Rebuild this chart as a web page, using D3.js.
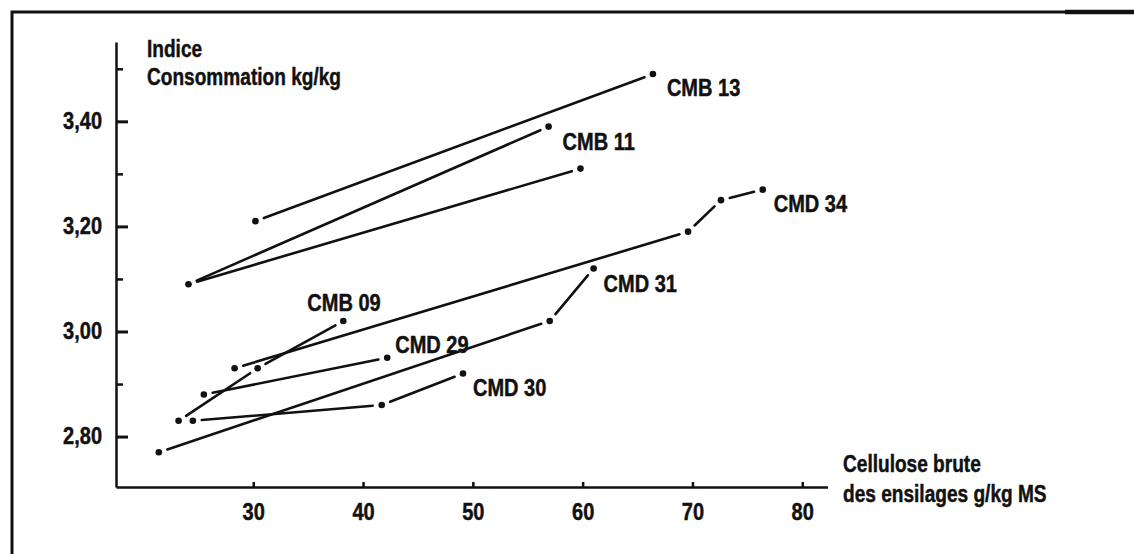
<!DOCTYPE html>
<html><head><meta charset="utf-8">
<script src="https://cdn.jsdelivr.net/npm/d3@7"></script>
<style>
html,body{margin:0;padding:0;background:#fff;}
svg{display:block;}
text{font-family:"Liberation Sans",Arial,sans-serif;font-weight:bold;fill:#111;stroke:#111;stroke-width:0.45px;}
</style></head><body>
<svg id="chart" width="1134" height="554"></svg>
<script>
// ---- data ----
const seriesNames = ["CMB 13", "CMB 11", "CMD 34", "CMD 31", "CMB 09", "CMD 29", "CMD 30"];
const cmb13 = [[30.2, 3.21], [66.4, 3.49]];
const cmb11 = [[56.9, 3.39], [24.1, 3.09], [59.8, 3.31]];
const cmd34 = [[28.3, 2.93], [69.6, 3.19], [72.6, 3.25], [76.4, 3.27]];
const cmd31 = [[21.4, 2.77], [57.0, 3.02], [61.0, 3.12]];
const cmb09 = [[23.2, 2.83], [30.4, 2.93], [38.2, 3.02]];
const cmd29 = [[25.5, 2.88], [42.2, 2.95]];
const cmd30 = [[24.5, 2.83], [41.7, 2.86], [49.1, 2.92]];
const seriesValues = [cmb13, cmb11, cmd34, cmd31, cmb09, cmd29, cmd30];

const xTicks = [30, 40, 50, 60, 70, 80];
const yMajorTicks = [2.8, 3.0, 3.2, 3.4];
const yMinorTicks = [2.9, 3.1, 3.3, 3.5];
const yTickLabels = ["2,80", "3,00", "3,20", "3,40"];
const yTitle = ["Indice", "Consommation kg/kg"];
const xTitle = ["Cellulose brute", "des ensilages g/kg MS"];

// ---- layout (not data) ----
const labelAnchor = [1, 0, 3, 2, 2, 1, 2];
const labelOffset = [[14, 14], [14, 15], [11, 14], [10, 16], [-36, -18], [8, -13], [10, 14]];
const FS = 23;
const GAP = 9;
const SX_TITLE = 0.83;   // horizontal condensing of the bold sans face
const SX_LABEL = 0.87;

function condense(sel, sx) {
  sel.each(function () {
    const t = d3.select(this);
    const xv = +(t.attr("x") || 0);
    const tr = t.attr("transform") || "";
    t.attr("x", xv / sx).attr("transform", (tr + " scale(" + sx + ",1)").trim());
  });
}

const svg = d3.select("#chart");

// frame (scanned border, heavier at the right end of the top rule)
svg.append("path").attr("d", "M12,554V12H1134").attr("fill", "none")
  .attr("stroke", "#111").attr("stroke-width", 3);
svg.append("path").attr("d", "M1065,12H1134").attr("fill", "none")
  .attr("stroke", "#111").attr("stroke-width", 4.5);

const x = d3.scaleLinear().domain([17.5, 82.3]).range([116, 827.5]);
const y = d3.scaleLinear().domain([2.704, 3.551]).range([487, 42]);

// y axis
const yAx = svg.append("g").attr("transform", "translate(116,0)")
  .call(d3.axisLeft(y).tickValues(yMajorTicks).tickSizeInner(-12).tickSizeOuter(0)
    .tickPadding(14).tickFormat((d, i) => yTickLabels[i]));
yAx.attr("font-family", null).attr("font-size", null);
yAx.select(".domain").attr("stroke", "#111").attr("stroke-width", 2.5);
yAx.selectAll(".tick line").attr("stroke", "#111").attr("stroke-width", 3);
yAx.selectAll(".tick text").attr("font-size", FS).attr("fill", "#111").call(condense, SX_LABEL);

const yMin = svg.append("g").attr("transform", "translate(116,0)")
  .call(d3.axisLeft(y).tickValues(yMinorTicks).tickSizeInner(-7).tickSizeOuter(0).tickFormat(""));
yMin.select(".domain").remove();
yMin.selectAll(".tick line").attr("stroke", "#111").attr("stroke-width", 2.5);

// x axis
const xAx = svg.append("g").attr("transform", "translate(0,487)")
  .call(d3.axisBottom(x).tickValues(xTicks).tickSizeInner(-5).tickSizeOuter(0).tickPadding(17));
xAx.attr("font-family", null).attr("font-size", null);
xAx.select(".domain").attr("stroke", "#111").attr("stroke-width", 2.5);
xAx.selectAll(".tick line").attr("stroke", "#111").attr("stroke-width", 2.5);
xAx.selectAll(".tick text").attr("font-size", FS).attr("fill", "#111").call(condense, SX_LABEL);

// axis titles
const titles = svg.append("g");
titles.append("text").attr("x", 147).attr("y", 57).attr("font-size", FS).text(yTitle[0]);
titles.append("text").attr("x", 147).attr("y", 85).attr("font-size", FS).text(yTitle[1]);
titles.append("text").attr("x", 843).attr("y", 472).attr("font-size", FS).text(xTitle[0]);
titles.append("text").attr("x", 843).attr("y", 502).attr("font-size", FS).text(xTitle[1]);
titles.selectAll("text").call(condense, SX_TITLE);

// series
const plot = svg.append("g");
seriesValues.forEach((pts, si) => {
  const P = pts.map(d => [x(d[0]), y(d[1])]);
  for (let i = 0; i < P.length - 1; i++) {
    const [x1, y1] = P[i], [x2, y2] = P[i + 1];
    const L = Math.hypot(x2 - x1, y2 - y1);
    const ux = (x2 - x1) / L, uy = (y2 - y1) / L;
    plot.append("line")
      .attr("x1", x1 + ux * GAP).attr("y1", y1 + uy * GAP)
      .attr("x2", x2 - ux * GAP).attr("y2", y2 - uy * GAP)
      .attr("stroke", "#111").attr("stroke-width", 2.6).attr("stroke-linecap", "round");
  }
  plot.selectAll(null).data(pts).enter().append("circle")
    .attr("cx", d => x(d[0])).attr("cy", d => y(d[1])).attr("r", 3.3).attr("fill", "#111");
  const a = pts[labelAnchor[si]];
  plot.append("text")
    .attr("x", x(a[0]) + labelOffset[si][0])
    .attr("y", y(a[1]) + labelOffset[si][1])
    .attr("dy", "0.35em").attr("font-size", FS)
    .text(seriesNames[si]);
});
plot.selectAll("text").call(condense, SX_LABEL);
</script>
</body></html>
